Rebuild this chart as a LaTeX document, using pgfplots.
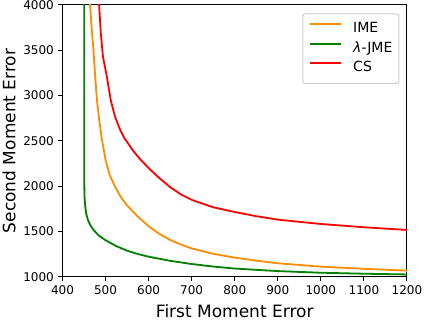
\documentclass[border=0pt]{standalone}
\usepackage{fontspec}
\setmainfont{DejaVu Sans}
\usepackage{pgfplots}
\pgfplotsset{compat=1.18}
\definecolor{mplorange}{RGB}{255,140,0}
\definecolor{mplgreen}{RGB}{0,128,0}
\definecolor{mplred}{RGB}{255,0,0}
\begin{document}
\begin{tikzpicture}
\begin{axis}[
  at={(0pt,0pt)}, anchor=south west,
  scale only axis,
  width=344.5pt, height=272.3pt,
  xmin=400, xmax=1200, ymin=1000, ymax=4000,
  xtick={400,500,...,1200},
  ytick={1000,1500,...,4000},
  xtick pos=bottom, ytick pos=left,
  /pgf/number format/assume math mode=true,
  /pgf/number format/1000 sep={},
  tick align=outside,
  major tick length=4.5pt,
  tick style={black, line width=1pt},
  axis line style={black, line width=1pt},
  ticklabel style={font=\fontsize{12}{14}\selectfont},
  xticklabel style={inner sep=0pt, yshift=-4pt},
  yticklabel style={inner sep=0pt, xshift=-4pt},
  xlabel={First Moment Error},
  ylabel={Second Moment Error},
  label style={font=\fontsize{17}{20}\selectfont},
  xlabel style={at={(axis description cs:0.5,-0.147)}, anchor=base, inner sep=0pt},
  ylabel style={at={(axis description cs:-0.137,0.5)}, anchor=base, inner sep=0pt},
  clip=true,
  legend cell align=left,
  legend style={
    at={(axis description cs:0.978,0.968)}, anchor=north east,
    font=\fontsize{14}{16}\selectfont,
    draw=black!20, line width=1pt, rounded corners=2pt, fill=white,
    inner xsep=6.5pt, inner ysep=8.5pt,
    row sep=6pt, column sep=11pt,
    nodes={inner sep=0pt, text height=10.5pt, text depth=3pt},
  },
  legend image code/.code={\draw[#1, line width=1.8pt] (0pt,5pt) -- (31pt,5pt);},
]
\addplot[mplorange, line width=1.8pt, sharp plot] coordinates {
(462.8,4100) (464,4000) (468,3720) (472,3500) (476,3200) (480,2950) (485,2740)
(491,2530) (500,2290) (510,2120) (522,1995) (535,1885) (549,1793) (575,1665)
(601,1555) (625,1475) (650,1408) (675,1357) (700,1315) (750,1255) (800,1213)
(850,1180) (900,1151) (1000,1114) (1100,1090) (1200,1070)
};
\addlegendentry{IME}
\addplot[mplgreen, line width=1.8pt, sharp plot] coordinates {
(450.3,4100) (450.4,2400) (450.6,2050) (451,1900) (452.5,1790) (455,1700)
(459,1630) (465,1568) (472,1518) (485,1455) (500,1405) (525,1340) (550,1290)
(575,1253) (600,1224) (650,1178) (700,1143) (750,1115) (800,1093) (900,1065)
(1000,1047) (1100,1036) (1200,1028)
};
\addlegendentry{\textit{λ}-JME}
\addplot[mplred, line width=1.8pt, sharp plot] coordinates {
(483.5,4100) (485,4000) (489,3685) (494,3427) (503,3207) (512,2950) (522,2766)
(534,2620) (544,2528) (565,2385) (580,2300) (601,2195) (625,2090) (650,1990)
(675,1910) (701,1848) (750,1768) (800,1716) (850,1670) (900,1632) (1000,1584)
(1100,1548) (1200,1518)
};
\addlegendentry{CS}
\end{axis}
\pgfresetboundingbox
\useasboundingbox (-62.5pt,-43pt) rectangle (361.5pt,277pt);
\end{tikzpicture}
\end{document}
